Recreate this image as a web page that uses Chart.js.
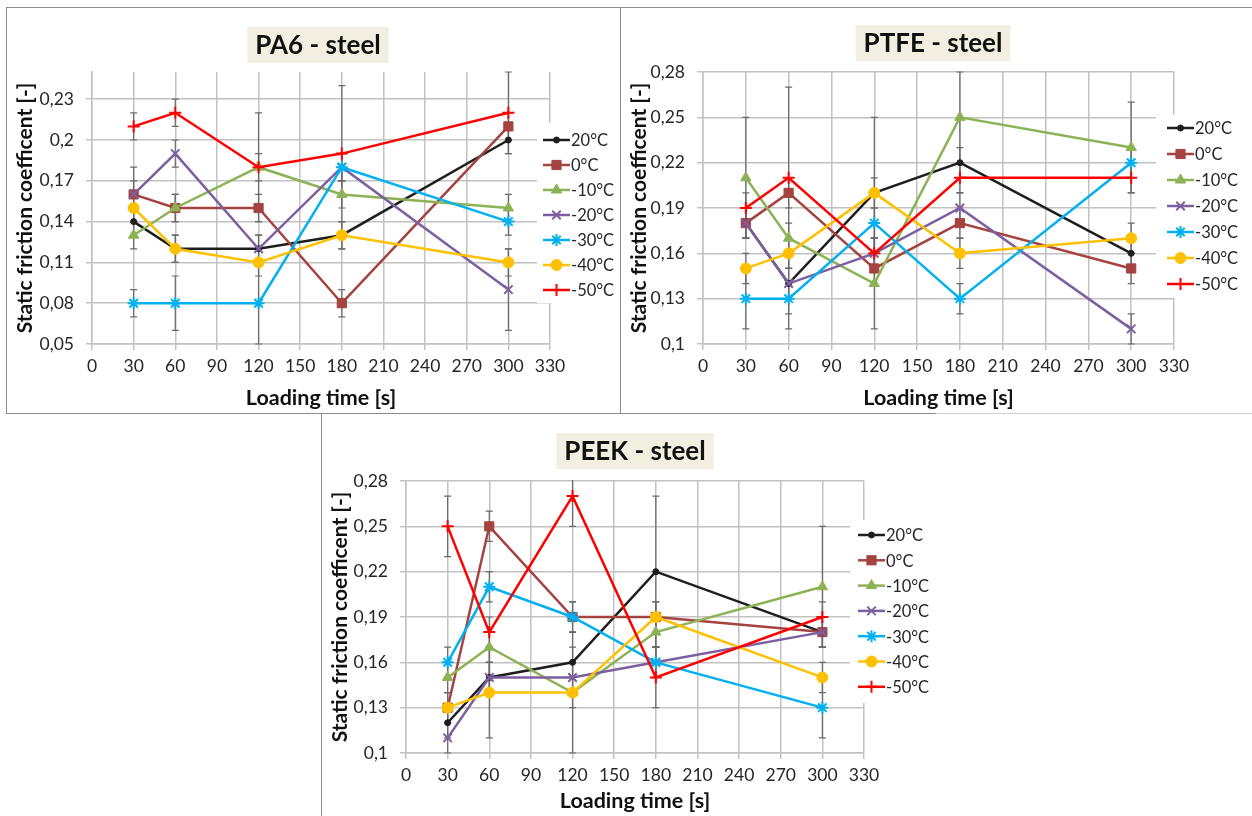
<!DOCTYPE html>
<html>
<head>
<meta charset="utf-8">
<script src="https://cdn.jsdelivr.net/npm/chart.js@4.4.1/dist/chart.umd.min.js"></script>
<style>
  body { margin: 0; background: #fff; width: 1252px; height: 816px; position: relative; overflow: hidden; }
  canvas { position: absolute; }
  .ln { position: absolute; background: #8c8c8c; }
</style>
</head>
<body>
<div class="ln" style="left:6px;top:7px;width:1246px;height:1px"></div>
<div class="ln" style="left:6px;top:7px;width:1px;height:406px"></div>
<div class="ln" style="left:620px;top:7px;width:1px;height:406px"></div>
<div class="ln" style="left:6px;top:413px;width:930px;height:1px"></div>
<div class="ln" style="left:936px;top:413px;width:316px;height:1px;background:#d0d0d0"></div>
<div class="ln" style="left:321px;top:413px;width:1px;height:403px"></div>
<canvas id="c1" width="612" height="404" style="left:7px;top:8px"></canvas>
<canvas id="c2" width="630" height="404" style="left:621px;top:8px"></canvas>
<canvas id="c3" width="613" height="401" style="left:322px;top:414px"></canvas>
<script>
// x positions (loading time) and series names
const loadTimes = [30, 60, 120, 180, 300];
const tempLabels = ["20°C", "0°C", "-10°C", "-20°C", "-30°C", "-40°C", "-50°C"];
const xTicks = [0, 30, 60, 90, 120, 150, 180, 210, 240, 270, 300, 330];
const yTicksPA6 = [0.05, 0.08, 0.11, 0.14, 0.17, 0.2, 0.23];
const yTicksPTFE = [0.1, 0.13, 0.16, 0.19, 0.22, 0.25, 0.28];
const yTicksPEEK = [0.1, 0.13, 0.16, 0.19, 0.22, 0.25, 0.28];

// static friction coefficient, one row per temperature
const pa6Values = [
  [0.14, 0.12, 0.12, 0.13, 0.20],
  [0.16, 0.15, 0.15, 0.08, 0.21],
  [0.13, 0.15, 0.18, 0.16, 0.15],
  [0.16, 0.19, 0.12, 0.18, 0.09],
  [0.08, 0.08, 0.08, 0.18, 0.14],
  [0.15, 0.12, 0.11, 0.13, 0.11],
  [0.21, 0.22, 0.18, 0.19, 0.22],
];
const ptfeValues = [
  [0.18, 0.14, 0.20, 0.22, 0.16],
  [0.18, 0.20, 0.15, 0.18, 0.15],
  [0.21, 0.17, 0.14, 0.25, 0.23],
  [0.18, 0.14, 0.16, 0.19, 0.11],
  [0.13, 0.13, 0.18, 0.13, 0.22],
  [0.15, 0.16, 0.20, 0.16, 0.17],
  [0.19, 0.21, 0.16, 0.21, 0.21],
];
const peekValues = [
  [0.12, 0.15, 0.16, 0.22, 0.18],
  [0.13, 0.25, 0.19, 0.19, 0.18],
  [0.15, 0.17, 0.14, 0.18, 0.21],
  [0.11, 0.15, 0.15, 0.16, 0.18],
  [0.16, 0.21, 0.19, 0.16, 0.13],
  [0.13, 0.14, 0.14, 0.19, 0.15],
  [0.25, 0.18, 0.27, 0.15, 0.19],
];

// error bar half-widths
const pa6Errors = [
  [0.01, 0.01, 0.01, 0.01, 0.01],
  [0.01, 0.01, 0.01, 0.01, 0.01],
  [0.01, 0.01, 0.01, 0.01, 0.01],
  [0.02, 0.01, 0.01, 0.01, 0.03],
  [0.01, 0.02, 0.03, 0.01, 0.01],
  [0.01, 0.01, 0.01, 0.01, 0.01],
  [0.01, 0.01, 0.04, 0.05, 0.03],
];
const ptfeErrors = [
  [0.01, 0.01, 0.01, 0.01, 0.01],
  [0.01, 0.01, 0.01, 0.01, 0.01],
  [0.04, 0.01, 0.03, 0.03, 0.03],
  [0.01, 0.03, 0.01, 0.01, 0.01],
  [0.02, 0.01, 0.01, 0.01, 0.01],
  [0.01, 0.01, 0.05, 0.01, 0.01],
  [0.01, 0.06, 0.01, 0.01, 0.01],
];
const peekErrors = [
  [0.01, 0.01, 0.01, 0.05, 0.01],
  [0.01, 0.01, 0.01, 0.01, 0.01],
  [0.01, 0.01, 0.04, 0.01, 0.04],
  [0.01, 0.01, 0.01, 0.01, 0.01],
  [0.01, 0.01, 0.01, 0.01, 0.02],
  [0.01, 0.03, 0.01, 0.01, 0.01],
  [0.02, 0.01, 0.02, 0.02, 0.01],
];

// series look (Excel style)
const seriesColors = ["#1e1e1e", "#a4433f", "#8db255", "#7b5fa0", "#00b0f0", "#ffc000", "#ff0000"];
const pointStyles = ["circle", "rect", "triangle", "crossRot", "star", "circle", "cross"];
const pointRadii = [3, 6.5, 6, 6, 6, 5.5, 6];
const gridColor = "#c2c2c2";
const FONT = "Lato";

function fmt(v) {
  return String(Number(v.toFixed(2))).replace(".", ",");
}

// error bars, legend box and title plugin
const panelDecor = {
  id: "panelDecor",
  beforeDatasetsDraw(chart, args, opts) {
    const { ctx, chartArea, scales: { x, y } } = chart;
    ctx.save();
    ctx.beginPath();
    ctx.rect(chartArea.left, chartArea.top - 1, chartArea.width, chartArea.height + 2);
    ctx.clip();
    ctx.strokeStyle = "#6a6a6a";
    ctx.lineWidth = 1.2;
    chart.data.datasets.forEach((ds, i) => {
      ds.data.forEach((p, j) => {
        const e = opts.errs[i][j];
        const px = x.getPixelForValue(p.x);
        const y1 = y.getPixelForValue(p.y + e);
        const y2 = y.getPixelForValue(p.y - e);
        ctx.beginPath();
        ctx.moveTo(px, y1);
        ctx.lineTo(px, y2);
        ctx.moveTo(px - 3.5, y1);
        ctx.lineTo(px + 3.5, y1);
        ctx.moveTo(px - 3.5, y2);
        ctx.lineTo(px + 3.5, y2);
        ctx.stroke();
      });
    });
    ctx.restore();
  },
  afterDraw(chart, args, opts) {
    const ctx = chart.ctx;
    const lg = opts.legend;
    ctx.save();
    // legend
    ctx.fillStyle = "#fff";
    ctx.fillRect(lg.box[0], lg.box[1], lg.box[2], lg.box[3]);
    chart.data.datasets.forEach((ds, i) => {
      const ly = lg.y0 + i * lg.dy;
      ctx.strokeStyle = ds.borderColor;
      ctx.lineWidth = 2.5;
      ctx.beginPath();
      ctx.moveTo(lg.lx, ly);
      ctx.lineTo(lg.lx + 27, ly);
      ctx.stroke();
      ctx.fillStyle = ds.pointBackgroundColor;
      ctx.strokeStyle = ds.pointBorderColor;
      ctx.lineWidth = ds.pointBorderWidth;
      Chart.helpers.drawPoint(ctx, { pointStyle: ds.pointStyle, radius: ds.pointRadius, rotation: 0, borderWidth: ds.pointBorderWidth }, lg.lx + 13.5, ly);
      ctx.fillStyle = "#262626";
      ctx.font = "16.5px " + FONT;
      ctx.textAlign = "left";
      ctx.textBaseline = "middle";
      ctx.fillText(ds.label, lg.lx + 28, ly + 1);
    });
    // title with beige band
    ctx.font = "bold 26px " + FONT;
    const tw = ctx.measureText(opts.title).width;
    ctx.fillStyle = "#f3efe0";
    ctx.fillRect(opts.tx - tw / 2 - 8, opts.ty - 18, tw + 16, 36);
    ctx.fillStyle = "#111";
    ctx.textAlign = "center";
    ctx.textBaseline = "middle";
    ctx.fillText(opts.title, opts.tx, opts.ty + 1);
    ctx.restore();
  },
};

function makeChart(id, values, errs, yTicks, yMin, yMax, L) {
  const datasets = values.map((row, i) => ({
    label: tempLabels[i],
    data: row.map((v, j) => ({ x: loadTimes[j], y: v })),
    borderColor: seriesColors[i],
    backgroundColor: seriesColors[i],
    pointBackgroundColor: seriesColors[i],
    pointBorderColor: seriesColors[i],
    pointStyle: pointStyles[i],
    pointRadius: pointRadii[i],
    pointBorderWidth: ["crossRot", "star", "cross"].includes(pointStyles[i]) ? 2 : 1,
    borderWidth: 2.5,
    tension: 0,
    order: values.length - 1 - i,
  }));
  return new Chart(document.getElementById(id), {
    type: "line",
    data: { datasets },
    options: {
      responsive: false,
      animation: false,
      layout: { padding: { left: 0, top: L.top, right: L.W - L.right, bottom: 0 } },
      plugins: {
        legend: { display: false },
        tooltip: { enabled: false },
        panelDecor: { errs, title: L.title, tx: L.tx, ty: L.ty, legend: L.legend },
      },
      scales: {
        x: {
          type: "linear",
          min: 0,
          max: 330,
          afterBuildTicks: (s) => { s.ticks = xTicks.map((v) => ({ value: v })); },
          afterFit: (s) => { s.height = L.H - L.bottom; },
          grid: { color: gridColor, lineWidth: 1.5, tickLength: 6 },
          border: { color: gridColor, width: 1.5 },
          ticks: { autoSkip: false, maxRotation: 0, padding: 6, color: "#262626", font: { family: FONT, size: 17.5 } },
          title: { display: true, text: "Loading time [s]", color: "#111", font: { family: FONT, size: 21.5, weight: "bold" }, padding: { top: 0, bottom: 1 } },
        },
        y: {
          type: "linear",
          min: yMin,
          max: yMax,
          afterBuildTicks: (s) => { s.ticks = yTicks.map((v) => ({ value: v })); },
          afterFit: (s) => { s.width = L.left; },
          grid: { color: gridColor, lineWidth: 1.5, tickLength: 6 },
          border: { color: gridColor, width: 1.5 },
          ticks: { padding: 12, color: "#262626", font: { family: FONT, size: 17.5 }, callback: (v) => fmt(v) },
          title: { display: true, text: "Static friction coefficent [-]", color: "#111", font: { family: FONT, size: 21, weight: "bold" }, padding: { top: 6, bottom: 0 } },
        },
      },
    },
    plugins: [panelDecor],
  });
}

makeChart("c1", pa6Values, pa6Errors, yTicksPA6, 0.05, 0.25, {
  W: 612, H: 404, left: 85, right: 543, top: 64, bottom: 336,
  title: "PA6 - steel", tx: 311, ty: 37,
  legend: { lx: 536, y0: 132, dy: 25, box: [530, 115, 82, 180] },
});
makeChart("c2", ptfeValues, ptfeErrors, yTicksPTFE, 0.1, 0.28, {
  W: 630, H: 404, left: 82, right: 553, top: 64, bottom: 336,
  title: "PTFE - steel", tx: 312, ty: 35,
  legend: { lx: 546, y0: 120, dy: 26, box: [535, 107, 95, 183] },
});
makeChart("c3", peekValues, peekErrors, yTicksPEEK, 0.1, 0.28, {
  W: 613, H: 401, left: 84, right: 542, top: 67, bottom: 339,
  title: "PEEK - steel", tx: 313, ty: 37,
  legend: { lx: 536, y0: 121, dy: 25.3, box: [528, 106, 85, 183] },
});
</script>
</body>
</html>
